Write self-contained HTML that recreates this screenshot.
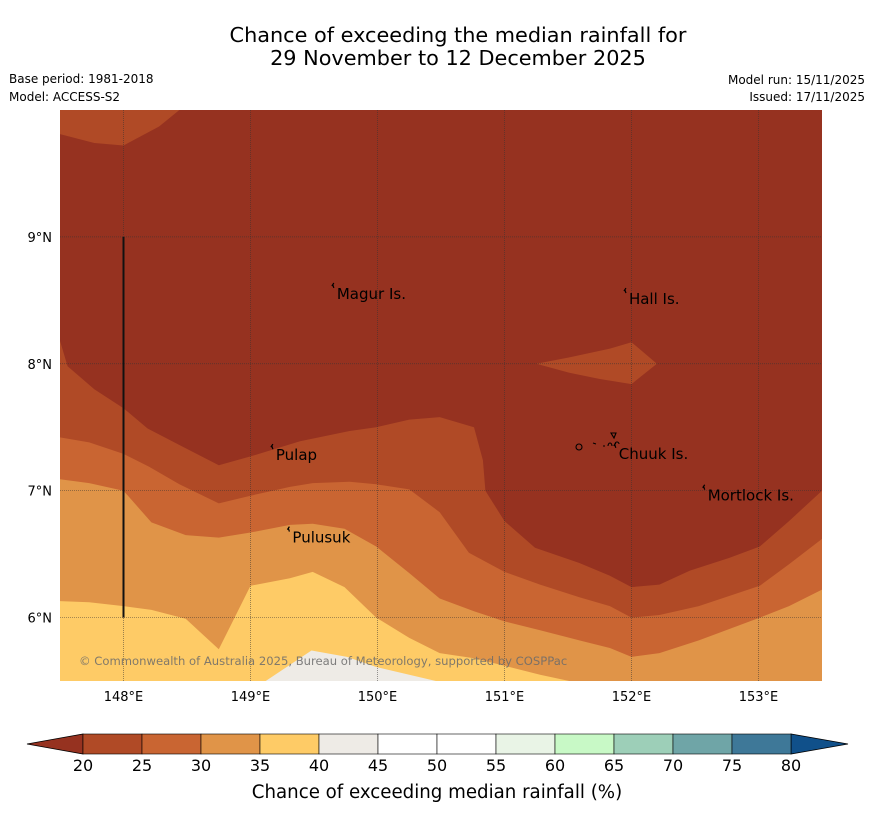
<!DOCTYPE html>
<html><head><meta charset="utf-8"><style>
body{margin:0;background:#fff;width:873px;height:816px;overflow:hidden;font-family:"Liberation Sans","DejaVu Sans",sans-serif}
</style></head><body>
<svg id="chart" width="873" height="816" xmlns="http://www.w3.org/2000/svg" font-family="DejaVu Sans, Liberation Sans, sans-serif">
<text x="458" y="42" text-anchor="middle" font-size="20.8">Chance of exceeding the median rainfall for</text>
<text x="458" y="65" text-anchor="middle" font-size="20.8">29 November to 12 December 2025</text>
<text x="9" y="83" font-size="12">Base period: 1981-2018</text>
<text x="9" y="101" font-size="12">Model: ACCESS-S2</text>
<text x="865" y="84" font-size="12" text-anchor="end">Model run: 15/11/2025</text>
<text x="865" y="101" font-size="12" text-anchor="end">Issued: 17/11/2025</text>
<g id="map"></g>
<g id="cbar"></g>
<text x="437" y="798" text-anchor="middle" font-size="18.2">Chance of exceeding median rainfall (%)</text>
</svg>
<script>
const NS="http://www.w3.org/2000/svg";
// contour boundaries [lon, lat]
const contour20=[[147.5,8.18],[147.56,7.98],[147.77,7.80],[148.0,7.65],[148.19,7.49],[148.44,7.36],[148.75,7.20],[149.0,7.27],[149.39,7.39],[149.78,7.47],[149.99,7.50],[150.25,7.56],[150.49,7.58],[150.76,7.50],[150.83,7.24],[150.85,7.0],[151.0,6.76],[151.24,6.55],[151.59,6.43],[151.83,6.33],[152.0,6.24],[152.22,6.26],[152.46,6.37],[152.77,6.47],[153.01,6.56],[153.24,6.76],[153.5,7.0]];
const contour25=[[147.5,7.42],[147.73,7.38],[148.0,7.29],[148.2,7.19],[148.44,7.05],[148.75,6.90],[149.0,6.96],[149.31,7.03],[149.49,7.06],[149.78,7.07],[149.99,7.05],[150.25,7.01],[150.49,6.83],[150.72,6.51],[151.0,6.36],[151.28,6.26],[151.59,6.16],[151.83,6.09],[152.0,6.0],[152.22,6.02],[152.53,6.09],[153.01,6.25],[153.24,6.42],[153.5,6.62]];
const contour30=[[147.5,7.09],[147.73,7.06],[148.0,7.0],[148.22,6.75],[148.49,6.65],[148.75,6.63],[149.0,6.67],[149.31,6.73],[149.49,6.74],[149.74,6.70],[149.99,6.56],[150.25,6.35],[150.49,6.15],[150.76,6.05],[151.0,5.97],[151.28,5.90],[151.59,5.82],[151.83,5.76],[152.0,5.69],[152.22,5.72],[152.53,5.82],[153.01,6.0],[153.24,6.09],[153.5,6.22]];
const contour35=[[147.5,6.13],[147.73,6.12],[148.0,6.09],[148.22,6.06],[148.49,5.99],[148.75,5.75],[149.0,6.25],[149.31,6.31],[149.49,6.36],[149.74,6.24],[149.99,6.0],[150.25,5.84],[150.49,5.72],[150.76,5.68],[151.0,5.62],[151.28,5.55],[151.51,5.5]];
const contour40=[[149.12,5.5],[149.48,5.74],[149.76,5.69],[149.99,5.61],[150.46,5.5]];
const patchNW=[[147.5,10.0],[148.44,10.0],[148.28,9.87],[148.0,9.72],[147.77,9.74],[147.5,9.81]];
const patchHall=[[151.25,8.0],[151.51,8.05],[151.83,8.12],[152.0,8.17],[152.2,8.0],[152.0,7.84],[151.75,7.88],[151.51,7.93]];
const lonTicks=[148,149,150,151,152,153];
const latTicks=[6,7,8,9];
const places=[["Magur Is.",149.68,8.55],["Hall Is.",151.98,8.51],["Pulap",149.2,7.28],["Chuuk Is.",151.9,7.29],["Mortlock Is.",152.6,6.96],["Pulusuk",149.33,6.63]];
const cbLevels=[20,25,30,35,40,45,50,55,60,65,70,75,80];
const cbColors=["#b04a26","#c96532","#e09448","#fecb66","#eeebe6","#ffffff","#ffffff","#e9f4e6","#c8f9c6","#9dcfb8","#6fa5a7","#3e7898"];
const LON0=147.5,LON1=153.5,LAT0=5.5,LAT1=10.0;
const X0=60,X1=822,Y0=681,Y1=110;
const px=lon=>X0+(lon-LON0)/(LON1-LON0)*(X1-X0);
const py=lat=>Y0-(lat-LAT0)/(LAT1-LAT0)*(Y0-Y1);
const map=document.getElementById('map');
function el(tag,attrs,parent){const e=document.createElementNS(NS,tag);for(const k in attrs)e.setAttribute(k,attrs[k]);parent.appendChild(e);return e;}
function pts(arr){return arr.map(p=>px(p[0]).toFixed(1)+","+py(p[1]).toFixed(1)).join(" ");}
let bg=el('rect',{x:X0,y:Y1,width:X1-X0,height:Y0-Y1,fill:'#963220'},map);


const fills=[[contour20,'#b04a26','region-20-25',true],[contour25,'#c96532','region-25-30',true],[contour30,'#e09448','region-30-35',true],[contour35,'#fecb66','region-35-40',false],[contour40,'#eeebe6','region-40-45',false]];
fills.forEach(f=>{let arr=f[0].slice();if(f[3]){arr.push([LON1,LAT0]);arr.push([LON0,LAT0]);}else{arr.push([LON0,LAT0]);}
 if(f[0]===contour40){arr=f[0].slice();}
 const p=el('polygon',{points:pts(arr),fill:f[1]},map);
 
 });
let pn=el('polygon',{points:pts(patchNW),fill:'#b04a26'},map);


let ph=el('polygon',{points:pts(patchHall),fill:'#b04a26'},map);


lonTicks.forEach(l=>{const g=el('line',{x1:px(l),x2:px(l),y1:Y1,y2:Y0,stroke:'#333','stroke-width':0.7,'stroke-dasharray':'1,1','stroke-opacity':0.7},map);
 
 
 const t=el('text',{x:px(l),y:Y0+20,'text-anchor':'middle','font-size':13},map);t.textContent=l+"°E";
 
 });
latTicks.forEach(l=>{const g=el('line',{x1:X0,x2:X1,y1:py(l),y2:py(l),stroke:'#333','stroke-width':0.7,'stroke-dasharray':'1,1','stroke-opacity':0.7},map);
 
 
 const t=el('text',{x:X0-8,y:py(l)+5,'text-anchor':'end','font-size':13},map);t.textContent=l+"°N";
 
 });
let vl=el('line',{x1:px(148),x2:px(148),y1:py(9),y2:py(6),stroke:'#111','stroke-width':2},map);


places.forEach(p=>{const x=px(p[1]),y=py(p[2]);
 const m=el('path',{d:`M${x-5},${y-8} l2,-3 M${x-4},${y-9} l1,3`,stroke:'#000','stroke-width':1.2,fill:'none'},map);
 
 
 const t=el('text',{x:x,y:y+5,'font-size':15},map);t.textContent=p[0];
 
 });
let ch=el('path',{d:'M576,447 a3,3 0 1,1 6,0 a3,3 0 1,1 -6,0 M593,443 l3,1 M603,446 l2,0 M608,446 a2,3 0 1,1 4,0 M611,433 l5,0 l-2,5 z M615,444 a2,2 0 1,1 4,0',stroke:'#000','stroke-width':1.1,fill:'none'},map);


let cp=el('text',{x:79,y:665,'font-size':11.6,fill:'#6b6b6b','fill-opacity':0.85},map);
cp.textContent="© Commonwealth of Australia 2025, Bureau of Meteorology, supported by COSPPac";


// colorbar
const cb=document.getElementById('cbar');
const CX0=83,CX1=791,CY=734,CH=20;
const cx=v=>CX0+(v-cbLevels[0])/(cbLevels[cbLevels.length-1]-cbLevels[0])*(CX1-CX0);
let lt=el('polygon',{points:`${CX0},${CY} ${CX0},${CY+CH} 27,${CY+CH/2}`,fill:'#963220',stroke:'#000','stroke-width':0.8},cb);


let rt=el('polygon',{points:`${CX1},${CY} ${CX1},${CY+CH} 848,${CY+CH/2}`,fill:'#10508a',stroke:'#000','stroke-width':0.8},cb);


cbColors.forEach((c,i)=>{const r=el('rect',{x:cx(cbLevels[i]),y:CY,width:cx(cbLevels[i+1])-cx(cbLevels[i]),height:CH,fill:c,stroke:'#000','stroke-width':0.6},cb);
 
 });
cbLevels.forEach(v=>{const t=el('text',{x:cx(v),y:771,'text-anchor':'middle','font-size':16},cb);t.textContent=v;
 
 });
</script>
</body></html>
